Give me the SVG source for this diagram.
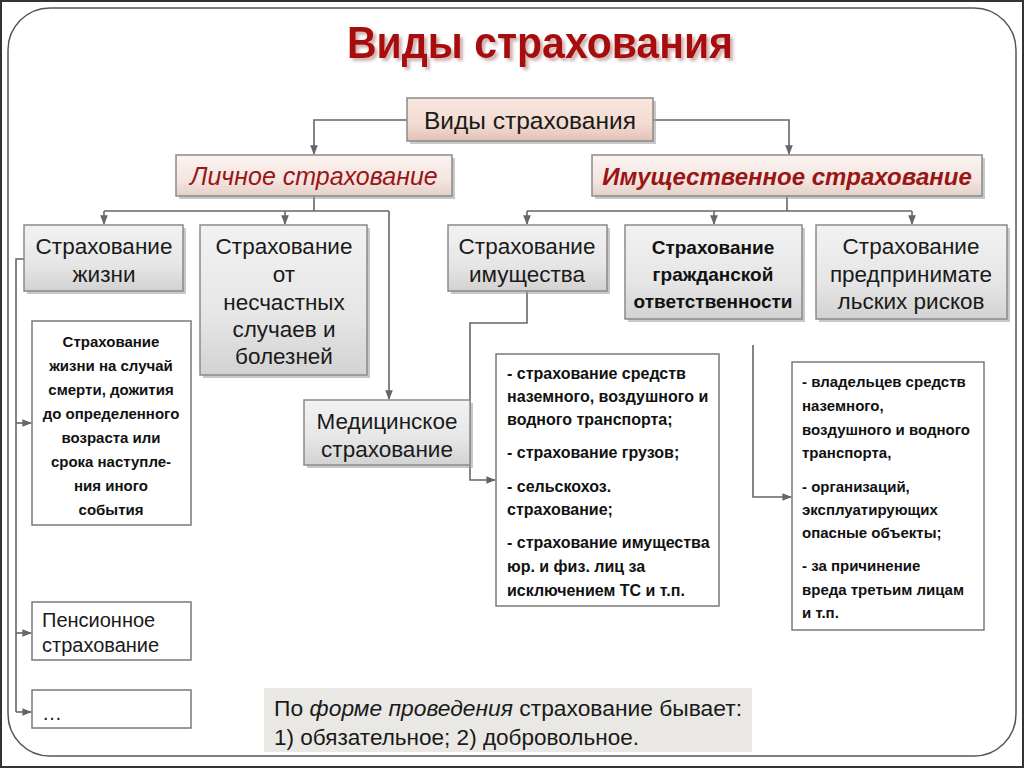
<svg xmlns="http://www.w3.org/2000/svg" width="1024" height="768" viewBox="0 0 1024 768">
<style>
.frame{fill:none;stroke:#333;stroke-width:2}
.inner{fill:#fff;stroke:#555;stroke-width:1.5}
.title{font-family:"Liberation Sans",Arial,sans-serif;font-weight:bold;font-size:44px;fill:#a80c0c}
.shadow{fill:#9a9a9a;opacity:.55}
.gbox{fill:url(#gg);stroke:#8a8a8a;stroke-width:1.5}
.pbox{fill:url(#pg);stroke:#8a8a8a;stroke-width:1.5}
.rbox{fill:url(#rg);stroke:#8a8a8a;stroke-width:1.5}
.wbox{fill:#fff;stroke:#7a7a7a;stroke-width:1.5}
.note{fill:#e9e8e4;stroke:none}
.t{font-family:"Liberation Sans",Arial,sans-serif;font-size:22.5px;fill:#1a1a1a;text-anchor:middle}
.ti{font-family:"Liberation Sans",Arial,sans-serif;font-size:25px;font-style:italic;fill:#9a1515;text-anchor:middle}
.tb{font-family:"Liberation Sans",Arial,sans-serif;font-weight:bold;font-size:16px;fill:#111}
.ts{font-family:"Liberation Sans",Arial,sans-serif;font-size:20px;fill:#1a1a1a}
.tn{font-family:"Liberation Sans",Arial,sans-serif;font-size:22px;fill:#1a1a1a}
.c{fill:none;stroke:#666;stroke-width:1.6}
</style>
<defs>
<linearGradient id="gg" x1="0" y1="0" x2="0" y2="1">
<stop offset="0" stop-color="#f2f2f2"/><stop offset="0.6" stop-color="#e6e6e6"/><stop offset="1" stop-color="#d2d2d2"/>
</linearGradient>
<linearGradient id="pg" x1="0" y1="0" x2="0" y2="1">
<stop offset="0" stop-color="#fbf3f0"/><stop offset="0.6" stop-color="#f4e6e1"/><stop offset="1" stop-color="#e4d0c8"/>
</linearGradient>
<linearGradient id="rg" x1="0" y1="0" x2="0" y2="1">
<stop offset="0" stop-color="#f8e6de"/><stop offset="0.6" stop-color="#f3dcd2"/><stop offset="1" stop-color="#e2c2b4"/>
</linearGradient>
<filter id="ts" x="-10%" y="-30%" width="120%" height="160%">
<feDropShadow dx="3" dy="3" stdDeviation="1.5" flood-color="#b08080" flood-opacity="0.6"/>
</filter>
<marker id="ar" viewBox="0 0 10 10" refX="9" refY="5" markerWidth="6" markerHeight="6" orient="auto">
<path d="M0,1 L10,5 L0,9 Z" fill="#666"/>
</marker>
</defs>

<rect x="1" y="1" width="1022" height="766" fill="#fff" class="frame"/>
<rect x="8" y="8" width="1008" height="748" rx="42" ry="42" class="inner"/>

<g id="title">
<text x="540" y="58" class="title" text-anchor="middle" textLength="386" lengthAdjust="spacingAndGlyphs" filter="url(#ts)">Виды страхования</text>
</g>

<g id="connectors">
<path class="c" d="M407,120 H314 V154" marker-end="url(#ar)"/>
<path class="c" d="M653,120 H789 V154" marker-end="url(#ar)"/>
<path class="c" d="M314,196 V211"/>
<path class="c" d="M104,211 H389"/>
<path class="c" d="M104,211 V224" marker-end="url(#ar)"/>
<path class="c" d="M285,211 V224" marker-end="url(#ar)"/>
<path class="c" d="M389,211 V399" marker-end="url(#ar)"/>
<path class="c" d="M787,196 V211"/>
<path class="c" d="M527,211 H912"/>
<path class="c" d="M527,211 V224" marker-end="url(#ar)"/>
<path class="c" d="M714,211 V224" marker-end="url(#ar)"/>
<path class="c" d="M912,211 V224" marker-end="url(#ar)"/>
<path class="c" d="M527,291 V323 H470 V480 H495" marker-end="url(#ar)"/>
<path class="c" d="M753,345 V497 H791" marker-end="url(#ar)"/>
<path class="c" d="M24,259 H16 V712"/>
<path class="c" d="M16,423 H31" marker-end="url(#ar)"/>
<path class="c" d="M16,633 H31" marker-end="url(#ar)"/>
<path class="c" d="M16,712 H31" marker-end="url(#ar)"/>
</g>

<g id="root">
<rect x="410" y="101" width="246" height="43" class="shadow"/>
<rect x="407" y="98" width="246" height="43" class="rbox"/>
<text x="530" y="129" class="t" style="font-size:24.5px">Виды страхования</text>
</g>

<g id="personal">
<rect x="179" y="158" width="276" height="41" class="shadow"/>
<rect x="176" y="155" width="276" height="41" class="pbox"/>
<text x="314" y="185" class="ti">Личное страхование</text>
</g>

<g id="property">
<rect x="595" y="158" width="390" height="41" class="shadow"/>
<rect x="592" y="155" width="390" height="41" class="pbox"/>
<text x="787" y="185" class="ti" style="font-weight:bold;font-size:24px">Имущественное страхование</text>
</g>

<g id="life">
<rect x="27" y="228" width="159" height="66" class="shadow"/>
<rect x="24" y="225" width="159" height="66" class="gbox"/>
<text class="t"><tspan x="104" y="254">Страхование</tspan><tspan x="104" y="282">жизни</tspan></text>
</g>

<g id="accident">
<rect x="203" y="228" width="167" height="150" class="shadow"/>
<rect x="200" y="225" width="167" height="150" class="gbox"/>
<text class="t"><tspan x="284" y="254">Страхование</tspan><tspan x="284" y="282">от</tspan><tspan x="284" y="310">несчастных</tspan><tspan x="284" y="337">случаев и</tspan><tspan x="284" y="364">болезней</tspan></text>
</g>

<g id="medical">
<rect x="307" y="403" width="166" height="65" class="shadow"/>
<rect x="304" y="400" width="166" height="65" class="gbox"/>
<text class="t"><tspan x="387" y="429">Медицинское</tspan><tspan x="387" y="457">страхование</tspan></text>
</g>

<g id="propins">
<rect x="451" y="228" width="159" height="66" class="shadow"/>
<rect x="448" y="225" width="159" height="66" class="gbox"/>
<text class="t"><tspan x="527" y="254">Страхование</tspan><tspan x="527" y="282">имущества</tspan></text>
</g>

<g id="liability">
<rect x="628" y="228" width="177" height="94" class="shadow"/>
<rect x="625" y="225" width="177" height="94" class="gbox"/>
<text class="tb" text-anchor="middle" style="font-size:19px"><tspan x="713" y="254">Страхование</tspan><tspan x="713" y="281">гражданской</tspan><tspan x="713" y="308">ответственности</tspan></text>
</g>

<g id="business">
<rect x="819" y="228" width="191" height="94" class="shadow"/>
<rect x="816" y="225" width="191" height="94" class="gbox"/>
<text class="t"><tspan x="911" y="254">Страхование</tspan><tspan x="911" y="282">предпринимате</tspan><tspan x="911" y="309">льских рисков</tspan></text>
</g>

<g id="lifedetail">
<rect x="32" y="321" width="159" height="204" class="wbox"/>
<text class="tb" text-anchor="middle" style="font-size:15px"><tspan x="111" y="347">Страхование</tspan><tspan x="111" y="371">жизни на случай</tspan><tspan x="111" y="395">смерти, дожития</tspan><tspan x="111" y="419">до определенного</tspan><tspan x="111" y="443">возраста или</tspan><tspan x="111" y="467">срока наступле-</tspan><tspan x="111" y="491">ния иного</tspan><tspan x="111" y="515">события</tspan></text>
</g>

<g id="pension">
<rect x="32" y="602" width="159" height="58" class="wbox"/>
<text class="ts"><tspan x="42" y="627">Пенсионное</tspan><tspan x="42" y="652">страхование</tspan></text>
</g>

<g id="etc">
<rect x="32" y="690" width="159" height="38" class="wbox"/>
<text class="ts" x="42" y="720">…</text>
</g>

<g id="propdetail">
<rect x="496" y="354" width="223" height="252" class="wbox"/>
<text class="tb"><tspan x="507" y="379">- страхование средств</tspan><tspan x="507" y="402">наземного, воздушного и</tspan><tspan x="507" y="425">водного  транспорта;</tspan><tspan x="507" y="458">- страхование грузов;</tspan><tspan x="507" y="492">- сельскохоз.</tspan><tspan x="507" y="515">страхование;</tspan><tspan x="507" y="548">- страхование имущества</tspan><tspan x="507" y="572">юр. и физ. лиц за</tspan><tspan x="507" y="596">исключением ТС и т.п.</tspan></text>
</g>

<g id="liabdetail">
<rect x="792" y="362" width="192" height="268" class="wbox"/>
<text class="tb" style="font-size:15px"><tspan x="802" y="387">- владельцев средств</tspan><tspan x="802" y="411">наземного,</tspan><tspan x="802" y="435">воздушного и водного</tspan><tspan x="802" y="458">транспорта,</tspan><tspan x="802" y="492">- организаций,</tspan><tspan x="802" y="515">эксплуатирующих</tspan><tspan x="802" y="538">опасные объекты;</tspan><tspan x="802" y="571">- за причинение</tspan><tspan x="802" y="595">вреда третьим лицам</tspan><tspan x="802" y="618">и т.п.</tspan></text>
</g>

<g id="note">
<rect x="264" y="688" width="488" height="64" class="note"/>
<text class="tn" x="274" y="716" textLength="468" lengthAdjust="spacingAndGlyphs">По <tspan font-style="italic">форме проведения</tspan> страхование бывает:</text>
<text class="tn" x="274" y="745" textLength="365" lengthAdjust="spacingAndGlyphs">1) обязательное; 2) добровольное.</text>
</g>
</svg>
